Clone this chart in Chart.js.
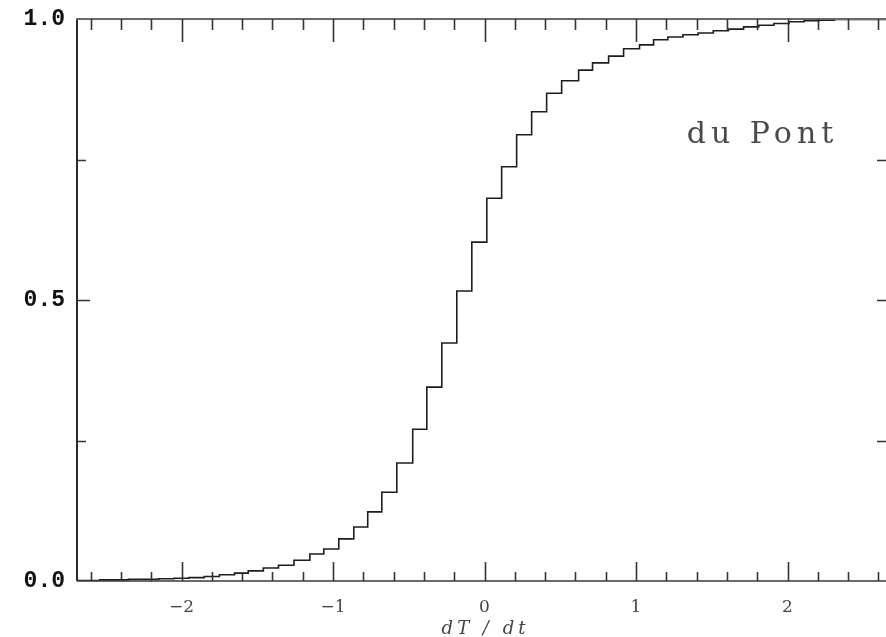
<!DOCTYPE html>
<html>
<head>
<meta charset="utf-8">
<script src="https://cdn.jsdelivr.net/npm/chart.js@4/dist/chart.umd.min.js"></script>
<style>
  html, body { margin: 0; padding: 0; background: #ffffff; }
  #wrap { width: 886px; height: 637px; }
</style>
</head>
<body>
<div id="wrap"><canvas id="c" width="886" height="637"></canvas></div>
<script>
// ---- data ----
// left edge of every step (x value) and the level the curve holds to the right of it
const stepEdges = [
  -2.69, -2.64, -2.54, -2.45, -2.35, -2.25, -2.15, -2.05, -1.95, -1.85,
  -1.75, -1.65, -1.56, -1.46, -1.36, -1.258, -1.153, -1.061, -0.962, -0.863,
  -0.771, -0.678, -0.579, -0.474, -0.381, -0.282, -0.183, -0.084, 0.015, 0.113,
  0.212, 0.311, 0.410, 0.509, 0.621, 0.713, 0.819, 0.918, 1.023, 1.116,
  1.21, 1.31, 1.41, 1.51, 1.61, 1.71, 1.81, 1.91, 2.01, 2.11,
  2.21, 2.31, 2.65
];
const stepLevels = [
  0.001, 0.001, 0.002, 0.002, 0.003, 0.003, 0.004, 0.005, 0.006, 0.008,
  0.011, 0.014, 0.018, 0.023, 0.028, 0.037, 0.048, 0.057, 0.075, 0.096,
  0.123, 0.158, 0.210, 0.270, 0.345, 0.4235, 0.516, 0.603, 0.681, 0.737,
  0.794, 0.835, 0.868, 0.890, 0.909, 0.922, 0.934, 0.947, 0.954, 0.963,
  0.968, 0.972, 0.975, 0.979, 0.982, 0.986, 0.989, 0.992, 0.995, 0.997,
  0.998, 0.999, 0.999
];

const xMajorTicks = [-2, -1, 0, 1, 2];
const xMinorTicks = [-2.6, -2.4, -2.2, -1.8, -1.6, -1.4, -1.2, -0.8, -0.6, -0.4, -0.2,
                     0.2, 0.4, 0.6, 0.8, 1.2, 1.4, 1.6, 1.8, 2.2, 2.4, 2.6];
const yLabelTicks = [0, 0.5, 1];
const ySideTicks = [0.25, 0.5, 0.75];

const xAxisTitle = 'dT / dt';
const noteText = 'du Pont';
const noteX = 1.835;
const noteY = 0.793;

const X_MIN = -2.69, X_MAX = 2.65;

const points = stepEdges.map((x, i) => ({ x: x, y: stepLevels[i] }));

const framePlugin = {
  id: 'frame',
  afterDatasetsDraw(chart) {
    const { ctx, chartArea: a, scales: { x, y } } = chart;
    ctx.save();
    // frame
    ctx.lineCap = 'butt';
    ctx.strokeStyle = '#2a2a2a';
    ctx.lineWidth = 2;
    ctx.beginPath();
    ctx.moveTo(a.left, a.bottom); ctx.lineTo(a.left, a.top - 1);
    ctx.stroke();
    ctx.strokeStyle = '#6a6a6a';
    ctx.beginPath();
    ctx.moveTo(a.left - 1, a.top); ctx.lineTo(a.right, a.top);
    ctx.stroke();
    ctx.strokeStyle = '#3a3a3a';
    ctx.lineWidth = 1.5;
    ctx.beginPath();
    ctx.moveTo(a.left, a.bottom); ctx.lineTo(a.right, a.bottom);
    ctx.stroke();

    // x ticks, inward, top and bottom
    ctx.strokeStyle = '#333';
    ctx.lineWidth = 1.6;
    ctx.beginPath();
    xMajorTicks.forEach(v => {
      const px = Math.round(x.getPixelForValue(v)) + 0.5;
      ctx.moveTo(px, a.top); ctx.lineTo(px, a.top + 23);
      ctx.moveTo(px, a.bottom); ctx.lineTo(px, a.bottom - 19);
    });
    xMinorTicks.forEach(v => {
      const px = Math.round(x.getPixelForValue(v)) + 0.5;
      ctx.moveTo(px, a.top); ctx.lineTo(px, a.top + 11);
      ctx.moveTo(px, a.bottom); ctx.lineTo(px, a.bottom - 9);
    });
    ctx.stroke();

    // y ticks, inward, left and right
    ctx.lineWidth = 1.4;
    ctx.beginPath();
    ySideTicks.forEach(v => {
      const py = Math.round(y.getPixelForValue(v)) + 0.5;
      const len = v === 0.5 ? 13 : 9;
      ctx.moveTo(a.left, py); ctx.lineTo(a.left + len, py);
      ctx.moveTo(a.right, py); ctx.lineTo(a.right - 9, py);
    });
    ctx.stroke();

    // annotation text
    ctx.fillStyle = '#4a4a4a';
    ctx.font = '30px "DejaVu Serif"';
    ctx.letterSpacing = '5px';
    ctx.textAlign = 'center';
    ctx.textBaseline = 'middle';
    ctx.fillText(noteText, x.getPixelForValue(noteX), y.getPixelForValue(noteY));

    // x axis title, centred under the axis
    ctx.fillStyle = '#444';
    ctx.font = 'italic 18px "DejaVu Serif"';
    ctx.letterSpacing = '4px';
    ctx.textBaseline = 'middle';
    ctx.fillText(xAxisTitle, (a.left + a.right) / 2 + 4, x.bottom - 8);
    ctx.restore();
  }
};

new Chart(document.getElementById('c'), {
  type: 'line',
  data: {
    datasets: [{
      data: points,
      stepped: 'before',
      borderColor: '#1e1e1e',
      borderWidth: 1.6,
      pointRadius: 0,
      fill: false,
      tension: 0
    }]
  },
  options: {
    responsive: false,
    animation: false,
    devicePixelRatio: 1,
    layout: { padding: { top: 19, right: 0, left: 0, bottom: 0 } },
    plugins: { legend: { display: false }, tooltip: { enabled: false } },
    scales: {
      x: {
        type: 'linear',
        min: X_MIN, max: X_MAX,
        grid: { display: false, drawTicks: false },
        border: { display: false },
        afterBuildTicks(scale) { scale.ticks = xMajorTicks.map(v => ({ value: v })); },
        afterFit(scale) { scale.height = 56; scale.paddingLeft = 0; scale.paddingRight = 0; },
        ticks: {
          padding: 16,
          color: '#444',
          font: { family: '"DejaVu Serif"', size: 17 },
          callback: v => (v < 0 ? '\u2212' + Math.abs(v) : String(v))
        },
        title: { display: false }
      },
      y: {
        type: 'linear',
        min: 0, max: 1,
        grid: { display: false, drawTicks: false },
        border: { display: false },
        afterBuildTicks(scale) { scale.ticks = yLabelTicks.map(v => ({ value: v })); },
        afterFit(scale) { scale.width = 77; scale.paddingTop = 0; scale.paddingBottom = 0; },
        ticks: {
          padding: 12,
          color: '#111',
          font: { family: '"Liberation Mono"', size: 23, weight: 'bold' },
          callback: v => Number(v).toFixed(1)
        }
      }
    }
  },
  plugins: [framePlugin]
});
</script>
</body>
</html>
